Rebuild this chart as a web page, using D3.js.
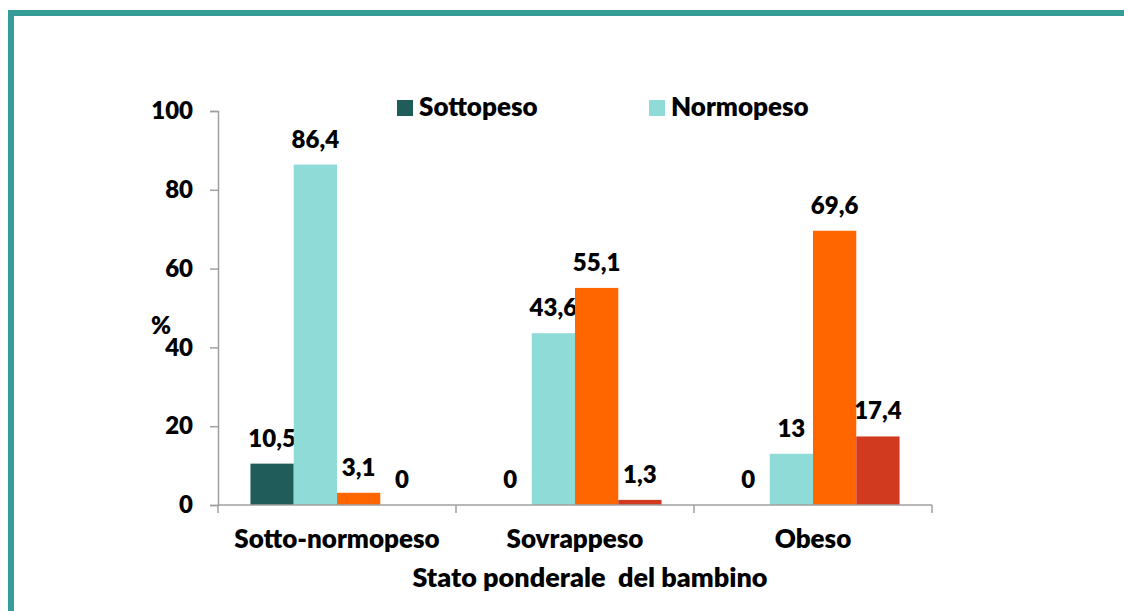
<!DOCTYPE html>
<html><head><meta charset="utf-8">
<script src="https://cdn.jsdelivr.net/npm/d3@7"></script>
<style>
html,body{margin:0;padding:0;background:#fff;}
svg{display:block;font-family:Lato,"Open Sans",sans-serif;}
svg text{font-family:Lato,"Open Sans",sans-serif;font-weight:800;}
</style></head>
<body>
<svg id="c" width="1124" height="611"></svg>
<script>
const categories = ["Sotto-normopeso", "Sovrappeso", "Obeso"];
const seriesNames = ["Sottopeso", "Normopeso", "Sovrappeso", "Obeso"];
const seriesColors = ["#1f5c5a", "#8fdbd8", "#ff6600", "#d13a1f"];
const sottopeso = [10.5, 0, 0];
const normopeso = [86.4, 43.6, 13];
const sovrappeso = [3.1, 55.1, 69.6];
const obeso = [0, 1.3, 17.4];
const yTicks = [0, 20, 40, 60, 80, 100];
const legendShown = ["Sottopeso", "Normopeso"];

const seriesValues = [sottopeso, normopeso, sovrappeso, obeso];
const fmt = v => String(v).replace(".", ",");

const svg = d3.select("#c");
// frame
svg.append("path")
  .attr("d", "M11,611 V13 H1124")
  .attr("fill", "none").attr("stroke", "#359c98").attr("stroke-width", 6);

const x0 = d3.scaleBand().domain(categories).range([218, 932]).padding(0);
const x1 = d3.scaleBand().domain(seriesNames).range([0, x0.bandwidth()]).paddingInner(0).paddingOuter(0.75);
const y = d3.scaleLinear().domain([0, 100]).range([505, 111]);

// y axis
const yAxis = svg.append("g").attr("transform", "translate(218,0)")
  .call(d3.axisLeft(y).tickValues(yTicks).tickSize(8).tickPadding(17));
yAxis.select(".domain").attr("stroke", "#a0a0a0").attr("stroke-width", 1.5);
yAxis.selectAll(".tick line").attr("stroke", "#a0a0a0").attr("stroke-width", 1.5);
yAxis.selectAll(".tick text").attr("font-size", 24).attr("fill", "#000");

// bars
const groups = svg.append("g").selectAll("g").data(categories).join("g")
  .attr("transform", d => `translate(${x0(d)},0)`);
groups.each(function(cat, ci) {
  const g = d3.select(this);
  seriesNames.forEach((s, si) => {
    const v = seriesValues[si][ci];
    g.append("rect")
      .attr("x", x1(s)).attr("width", x1.bandwidth())
      .attr("y", y(v)).attr("height", y(0) - y(v))
      .attr("fill", seriesColors[si]);
    g.append("text")
      .attr("x", x1(s) + x1.bandwidth() / 2).attr("y", y(v) - 17)
      .attr("text-anchor", "middle").attr("font-size", 24).attr("fill", "#000")
      .text(fmt(v));
  });
});

// x axis
const xAxisG = svg.append("g").attr("transform", "translate(0,505)");
xAxisG.append("line").attr("x1", 218).attr("x2", 932).attr("stroke", "#a0a0a0").attr("stroke-width", 1.5);
const boundaries = categories.map(c => x0(c)).concat([x0.range()[1]]);
xAxisG.selectAll("line.t").data(boundaries).join("line").attr("class", "t")
  .attr("x1", d => d).attr("x2", d => d).attr("y1", 0).attr("y2", 8)
  .attr("stroke", "#a0a0a0").attr("stroke-width", 1.5);
xAxisG.selectAll("text").data(categories).join("text")
  .attr("x", d => x0(d) + x0.bandwidth() / 2).attr("y", 43)
  .attr("text-anchor", "middle").attr("font-size", 26).attr("fill", "#000")
  .text(d => d);

// axis titles
svg.append("text").attr("x", 590).attr("y", 587).attr("text-anchor", "middle")
  .attr("font-size", 27).attr("fill", "#000").style("white-space", "pre")
  .text("Stato ponderale  del bambino");
svg.append("text").attr("x", 161).attr("y", 334).attr("text-anchor", "middle")
  .attr("font-size", 24).attr("fill", "#000").text("%");

// legend
const legendX = [397, 649];
legendShown.forEach((name, i) => {
  const si = seriesNames.indexOf(name);
  svg.append("rect").attr("x", legendX[i]).attr("y", 100).attr("width", 16).attr("height", 16)
    .attr("fill", seriesColors[si]);
  svg.append("text").attr("x", legendX[i] + 22).attr("y", 116).attr("font-size", 26)
    .attr("fill", "#000").text(name);
});
</script>
</body></html>
